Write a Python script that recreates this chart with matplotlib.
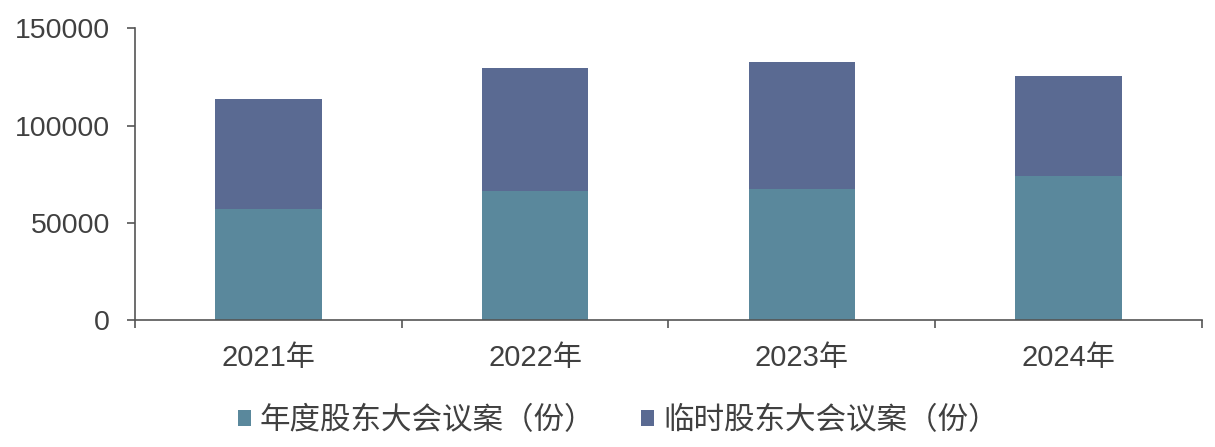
import matplotlib
matplotlib.use("Agg")
import matplotlib.pyplot as plt
import numpy as np

plt.rcParams['font.family'] = ['Liberation Sans', 'Noto Sans CJK SC', 'DejaVu Sans']

categories = ["2021年", "2022年", "2023年", "2024年"]
annual = [57100, 66500, 67500, 74200]
extra_total = [113700, 129600, 132500, 125700]
extraordinary = [t - a for t, a in zip(extra_total, annual)]
series_names = ["年度股东大会议案（份）", "临时股东大会议案（份）"]
yticks = [0, 50000, 100000, 150000]

c_annual = "#5a889c"
c_extra = "#5a6a92"
txt = "#404040"

fig = plt.figure(figsize=(12.15, 4.47), dpi=100)
ax = fig.add_axes([0.1111, 0.2841, 0.8782, 0.6526])

x = np.arange(len(categories))
ax.bar(x, annual, width=0.4, color=c_annual, label=series_names[0])
ax.bar(x, extraordinary, width=0.4, bottom=annual, color=c_extra, label=series_names[1])

ax.set_xlim(-0.5, 3.5)
ax.set_ylim(0, 150000)
ax.set_yticks(yticks)
ax.set_yticklabels([str(v) for v in yticks])
ax.set_xticks(x)
ax.set_xticklabels(categories)
ax.set_xticks(np.arange(-0.5, 4.0, 1.0), minor=True)
ax.tick_params(axis='x', which='major', length=0, pad=17, labelsize=21, colors=txt)
ax.tick_params(axis='x', which='minor', length=6, width=1.2, color="#555555", direction='out')
ax.tick_params(axis='y', length=6, width=1.2, color="#555555", pad=12, labelsize=20.5, labelcolor=txt)

for s in ['top', 'right']:
    ax.spines[s].set_visible(False)
for s in ['left', 'bottom']:
    ax.spines[s].set_color("#555555")
    ax.spines[s].set_linewidth(1.2)

handles, labels = ax.get_legend_handles_labels()
fig.legend(handles, labels, loc='center', bbox_to_anchor=(0.509, 0.058), ncol=2,
           frameon=False, fontsize=22, handlelength=0.42, handleheight=0.42,
           handletextpad=0.3, columnspacing=1.5, labelcolor=txt)

fig.savefig("out.png", dpi=100)
